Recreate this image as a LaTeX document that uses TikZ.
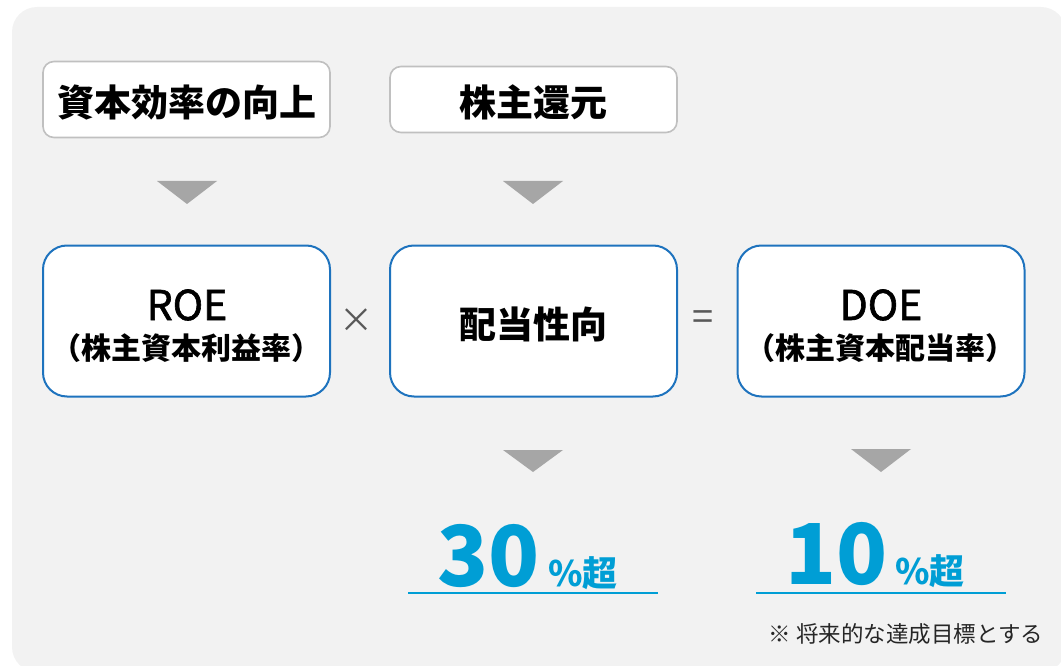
\documentclass[tikz,border=0pt]{standalone}
\usepackage{fontspec}
\setmainfont{Noto Sans CJK JP}
\newfontfamily\latinmed{Noto Sans CJK JP}[FakeBold=1.5]
\definecolor{bgc}{HTML}{F2F2F2}
\definecolor{grayb}{HTML}{C0C0C0}
\definecolor{trig}{HTML}{A6A6A6}
\definecolor{bluec}{RGB}{30,115,190}
\definecolor{numc}{RGB}{0,158,213}
\definecolor{opc}{HTML}{595959}
\definecolor{notec}{HTML}{262626}
\newcommand\setfs[1]{\fontsize{#1}{#1}\selectfont}
\tikzset{
  graybox/.style={draw=grayb, line width=1.6pt, fill=white, rounded corners=11pt,
    minimum width=287pt, inner sep=0pt},
  bluebox/.style={draw=bluec, line width=2pt, fill=white, rounded corners=24pt,
    minimum width=287pt, minimum height=151pt, inner sep=0pt},
  tri/.style={fill=trig},
  jtitle/.style={font=\setfs{37}\bfseries, text=black, inner sep=0pt},
  latin/.style={font=\latinmed\setfs{41}, text=black, inner sep=0pt, anchor=base},
  jsub/.style={font=\setfs{30}\bfseries, text=black, inner sep=0pt},
  bignum/.style={font=\setfs{84}\bfseries, text=numc, inner sep=0pt, anchor=base east},
  unit/.style={font=\setfs{35}\bfseries, text=numc, inner sep=0pt, anchor=base west},
  uline/.style={draw=numc, line width=1.3pt},
  opsym/.style={font=\setfs{34}, text=opc, inner sep=0pt},
}
\begin{document}
\begin{tikzpicture}[x=1pt,y=-1pt]
\useasboundingbox (0,0) rectangle (1061,666);
\fill[bgc, rounded corners=25pt] (12,7) rectangle (1066,672);

% top boxes
\node[graybox, minimum height=76pt] (eff) at (186.5,99.5) {};
\node[jtitle] (efft) at (186.5,102.5) {資本効率の向上};
\node[graybox, minimum height=66pt] (ret) at (533.5,99.5) {};
\node[jtitle] (rett) at (533,102) {株主還元};

% triangles under top boxes
\fill[tri] (157,181) -- (217,181) -- (187,204) -- cycle;
\fill[tri] (503,181) -- (563,181) -- (533,204) -- cycle;

% blue boxes
\node[bluebox] (roe) at (186.5,321) {};
\node[latin] (roet) at (187,320) {ROE};
\node[jsub] (roes) at (186.5,348.5) {（株主資本利益率）};

\node[bluebox] (pay) at (533.5,321) {};
\node[jtitle] (payt) at (533,324.5) {配当性向};

\node[bluebox] (doe) at (881,321) {};
\node[latin] (doet) at (881,320) {DOE};
\node[jsub] (does) at (880,348.5) {（株主資本配当率）};

% operators
\node[opsym] (times) at (356,321) {×};
\node[opsym, font=\setfs{38}] (equal) at (703.5,320.5) {=};

% triangles under blue boxes
\fill[tri] (503,450) -- (563,450) -- (533,472) -- cycle;
\fill[tri] (851,449) -- (911,449) -- (881,472) -- cycle;

% targets
\node[bignum] (n30) at (540,586) {30};
\node[unit] (u30) at (548,586) {\%超};
\draw[uline] (408,593) -- (658,593);

\node[bignum] (n10) at (888,584) {10};
\node[unit] (u10) at (895,584) {\%超};
\draw[uline] (756,593) -- (1006,593);

% note
\node[font=\setfs{22.5}, text=notec, inner sep=0pt] (note) at (906,633.5) {※ 将来的な達成目標とする};
\end{tikzpicture}
\end{document}
